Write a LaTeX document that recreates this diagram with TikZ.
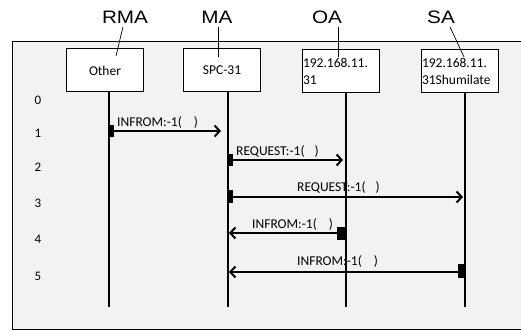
\documentclass[tikz,border=0pt]{standalone}
\usepackage{fontspec}
\setmainfont{Carlito}
\newfontfamily\hdrfont[FakeStretch=1.15]{Liberation Sans}
\usetikzlibrary{arrows.meta, positioning}

\begin{document}
\begin{tikzpicture}[x=1pt,y=-1pt,
  obj/.style={draw,line width=1pt,fill=white,minimum width=77pt,
              minimum height=43pt,font=\fontsize{13.5}{17}\selectfont,inner sep=1pt},
  objl/.style={obj,text width=75pt,align=left},
  hdr/.style={font=\hdrfont\fontsize{18}{20}\selectfont},
  lead/.style={line width=0.7pt},
  life/.style={line width=2pt},
  actbox/.style={fill=black,inner sep=0pt,minimum width=6pt,minimum height=12pt},
  msg/.style={line width=2pt,-{Straight Barb[length=5pt,width=11pt]}},
  lbl/.style={font=\fontsize{13.5}{15}\selectfont,inner sep=1pt,anchor=west},
  num/.style={font=\fontsize{13}{15}\selectfont}
]
\useasboundingbox (0,0) rectangle (521,331);
% frame
\draw[line width=1pt,fill=black!5] (12,42) rectangle (524,329);

% objects
\node[obj]  (other) at (105,70.5)   {Other};
\node[obj]  (spc)   at (222,70.5)   {SPC-31};
\node[objl] (oa)    at (340.5,71)   {192.168.11.\\31};
\node[objl] (sa)    at (459.5,71)   {192.168.11.\\31Shumilate};

% headers
\node[hdr] (rma) at (125,17) {RMA};
\node[hdr] (ma)  at (217,17) {MA};
\node[hdr] (oah) at (327,17) {OA};
\node[hdr] (sah) at (441,17) {SA};
\coordinate (rmaP) at (116,56);
\coordinate (maP)  at (218,57);
\coordinate (oaP)  at (338,57);
\coordinate (saP)  at (464,57);
\draw[lead] ([xshift=-2pt]rma.south) -- (rmaP);
\draw[lead] ([xshift=1pt]ma.south) -- (maP);
\draw[lead] ([xshift=11pt]oah.south) -- (oaP);
\draw[lead] ([xshift=9pt]sah.south) -- (saP);

% lifelines
\coordinate (rmaB) at (109,307);
\coordinate (maB)  at (228,307);
\coordinate (oaB)  at (346,307);
\coordinate (saB)  at (465,307);
\draw[life] (other.south -| rmaB) -- (rmaB);
\draw[life] (spc.south -| maB) -- (maB);
\draw[life] (oa.south -| oaB) -- (oaB);
\draw[life] (sa.south -| saB) -- (saB);

% row numbers
\foreach \i/\y in {0/100,1/133,2/167,3/203,4/239,5/276}
  \node[num] (n\i) at (38,\y) {\i};

% messages
\node[actbox,minimum width=5pt]  (a1) at (111,131)   {};
\node[actbox]                    (a2) at (230,160)   {};
\node[actbox,minimum height=13pt] (a3) at (230,196)  {};
\node[actbox,minimum width=9pt,minimum height=13pt] (a4) at (341.5,233) {};
\node[actbox,minimum width=7pt,minimum height=14pt] (a5) at (461.5,271) {};
\coordinate (m1) at (221,131);
\coordinate (m2) at (343,160);
\coordinate (m3) at (463,197);
\coordinate (m4) at (229,233);
\coordinate (m5) at (229,272);
\draw[msg] (a1.center) -- (m1);
\draw[msg] (a2.center) -- (m2);
\draw[msg] (a3.center |- m3) -- (m3);
\draw[msg] (a4.center) -- (m4);
\draw[msg] (a5.center |- m5) -- (m5);

\node[lbl] (l1) at (116,122) {INFROM:-1(\hspace{12pt})};
\node[lbl] (l2) at (235,151) {REQUEST:-1(\hspace{10pt})};
\node[lbl] (l3) at (296,187) {REQUEST:-1(\hspace{10pt})};
\node[lbl] (l4) at (251,224) {INFROM:-1(\hspace{12pt})};
\node[lbl] (l5) at (296,261) {INFROM:-1(\hspace{12pt})};
\end{tikzpicture}
\end{document}
